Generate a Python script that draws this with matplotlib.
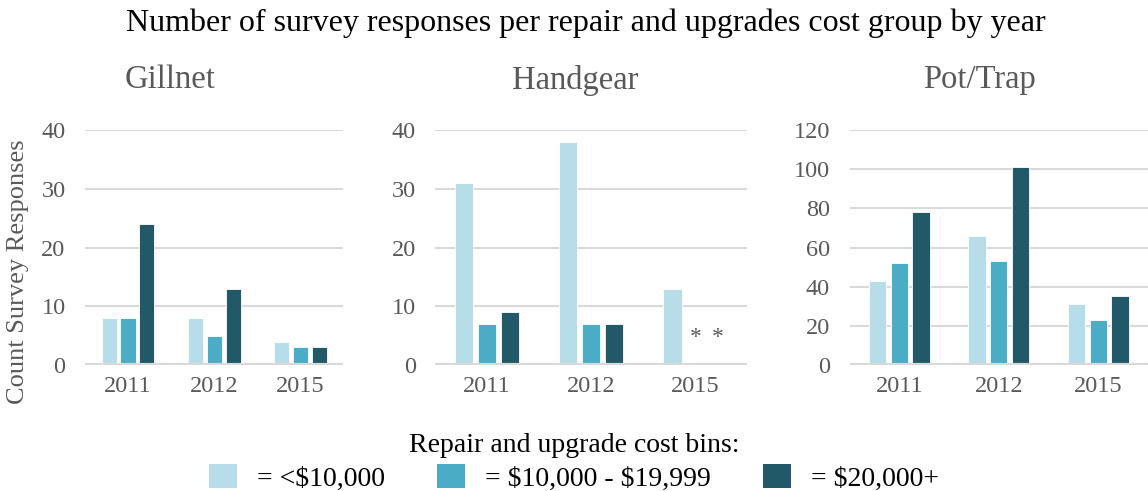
import numpy as np
import matplotlib
matplotlib.use("Agg")
import matplotlib.pyplot as plt
from matplotlib.patches import Patch

plt.rcParams['font.family'] = ['Liberation Serif', 'DejaVu Serif']

years = ['2011', '2012', '2015']
gears = ['Gillnet', 'Handgear', 'Pot/Trap']
bins = [r'= <\$10,000', r'= \$10,000 - \$19,999', r'= \$20,000+']

# counts per gear: rows = cost bins, cols = years (nan = suppressed, shown as *)
gillnet = [[8, 8, 4], [8, 5, 3], [24, 13, 3]]
handgear = [[31, 38, 13], [7, 7, np.nan], [9, 7, np.nan]]
pot_trap = [[43, 66, 31], [52, 53, 23], [78, 101, 35]]
counts = [gillnet, handgear, pot_trap]

y_max = [40, 40, 120]
y_step = [10, 10, 20]

colors = ['#B7DEE8', '#4BACC6', '#215968']
grey = '#595959'

fig = plt.figure(figsize=(11.48, 4.91), dpi=100)

# axes boxes in figure fractions
boxes = [(0.074, 0.2566, 0.225, 0.4786),
         (0.379, 0.2566, 0.272, 0.4786),
         (0.740, 0.2566, 0.260, 0.4786)]
title_x = [0.148, 0.501, 0.853]

width = 0.175
step = 0.22
x = np.arange(len(years))

for k, gear in enumerate(gears):
    ax = fig.add_axes(boxes[k])
    data = np.array(counts[k], dtype=float)
    for i in range(len(bins)):
        vals = data[i]
        ax.bar(x + (i - 1) * step, np.nan_to_num(vals), width, color=colors[i],
               edgecolor='white', linewidth=0.6, zorder=3)
        for j, v in enumerate(vals):
            if np.isnan(v):
                ax.text(x[j] + (i - 1) * step, y_max[k] * 0.115, '*', ha='center',
                        va='center', fontsize=17, color=grey)
    ax.set_xlim(-0.5, len(years) - 0.5)
    ax.set_ylim(0, y_max[k])
    ax.set_yticks(np.arange(0, y_max[k] + 1, y_step[k]))
    ax.set_xticks(x)
    ax.set_xticklabels(years)
    ax.tick_params(length=0, labelsize=17.5, colors=grey, pad=8)
    ax.tick_params(axis='y', pad=14)
    for s in ax.spines.values():
        s.set_visible(False)
    ax.grid(axis='y', color='#D9D9D9', linewidth=1.5, zorder=0)
    ax.axhline(0, color='#D9D9D9', linewidth=3, zorder=4)
    ax.set_axisbelow(True)
    fig.text(title_x[k], 0.837, gear, ha='center', va='center', fontsize=23.5, color=grey)

fig.text(0.51, 0.953, 'Number of survey responses per repair and upgrades cost group by year',
         ha='center', va='center', fontsize=23, color='black')
fig.text(0.016, 0.446, 'Count Survey Responses', rotation=90, ha='center', va='center',
         fontsize=19, color=grey)

handles = [Patch(facecolor=c, edgecolor='none') for c in colors]
leg = fig.legend(handles, bins, loc='lower center', bbox_to_anchor=(0.5, -0.035), ncol=3,
                 frameon=False, fontsize=20, title='Repair and upgrade cost bins:',
                 title_fontsize=20, handlelength=1.0, handleheight=1.0,
                 columnspacing=1.9, handletextpad=0.7, borderaxespad=0.2,
                 labelspacing=0.2)
leg.get_title().set_color('black')

fig.savefig('out.png', dpi=100)
